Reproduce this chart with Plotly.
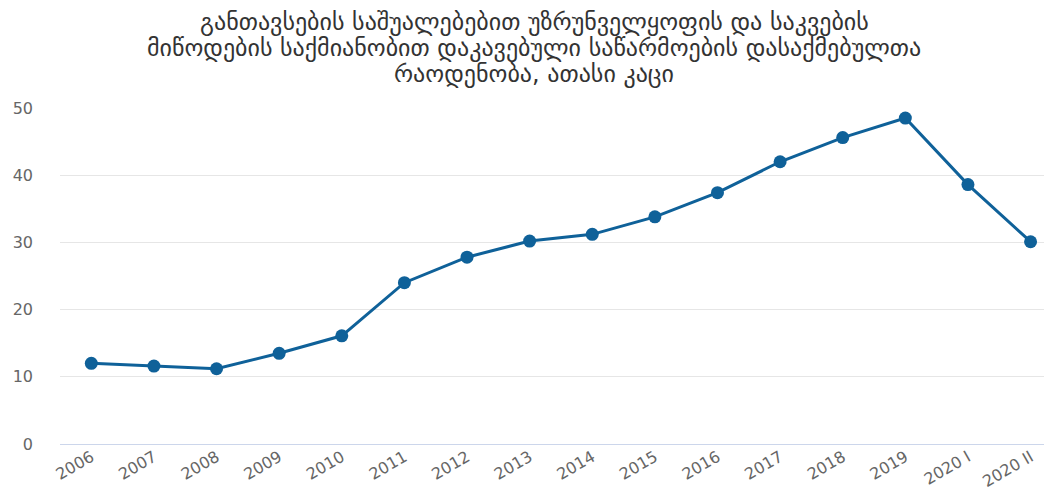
import plotly.graph_objects as go

periods = ["2006", "2007", "2008", "2009", "2010", "2011", "2012", "2013",
           "2014", "2015", "2016", "2017", "2018", "2019", "2020 I", "2020 II"]
employed = [12.0, 11.6, 11.2, 13.5, 16.1, 24.0, 27.8, 30.2,
            31.2, 33.8, 37.4, 42.0, 45.6, 48.5, 38.6, 30.1]

title_lines = [
    "განთავსების საშუალებებით უზრუნველყოფის და საკვების",
    "მიწოდების საქმიანობით დაკავებული საწარმოების დასაქმებულთა",
    "რაოდენობა, ათასი კაცი",
]

W, H = 1052, 493
ML, MT, MB = 52, 100, 57
plot_h = H - MT - MB

fig = go.Figure()
fig.add_trace(go.Scatter(
    x=periods, y=employed, mode="lines+markers",
    line=dict(color="#0f6199", width=3),
    marker=dict(color="#0f6199", size=13),
    showlegend=False,
))

# title as three separate lines so the line spacing stays tight
for i, line in enumerate(title_lines):
    fig.add_annotation(
        text=line, xref="paper", yref="paper",
        x=(W / 2 - ML) / (W - ML), y=1 + (86 - 26 * i) / plot_h,
        xanchor="center", yanchor="middle", showarrow=False,
        font=dict(family="DejaVu Sans", size=24, color="#333333"),
    )

fig.update_layout(
    width=W, height=H,
    margin=dict(l=ML, r=0, t=MT, b=MB),
    paper_bgcolor="white", plot_bgcolor="white",
    font=dict(family="DejaVu Sans", color="#666666"),
    xaxis=dict(
        type="category", range=[-0.5, 15.47],
        tickangle=-30, tickfont=dict(size=16, color="#666666"),
        showgrid=False, showline=False, ticks="",
    ),
    yaxis=dict(
        range=[0, 50], tickvals=[0, 10, 20, 30, 40, 50],
        tickfont=dict(size=16, color="#666666"),
        gridcolor="#e6e6e6", gridwidth=1,
        zeroline=True, zerolinecolor="#ccd6eb", zerolinewidth=1,
        ticklabelstandoff=26,
    ),
)

fig.write_html("out.html")
